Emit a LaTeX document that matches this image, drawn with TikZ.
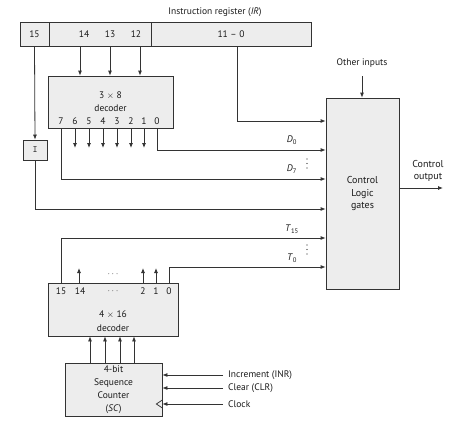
\documentclass[tikz,border=0pt]{standalone}
\usepackage{fontspec}
\setmainfont{PT Sans}
\usetikzlibrary{arrows.meta,calc}
\definecolor{boxfill}{HTML}{EDEDED}
\definecolor{linec}{HTML}{333333}
\definecolor{textc}{HTML}{1A1A1A}
\begin{document}
\begin{tikzpicture}[x=1pt,y=-1pt,
  txt/.style={text=textc, font=\fontsize{9.5}{11}\selectfont},
  box/.style={draw=linec, fill=boxfill, line width=0.8pt, inner sep=0pt, txt},
  lab/.style={inner sep=0pt, txt},
  wire/.style={draw=linec, line width=0.8pt},
  arr/.style={wire, -{Latex[length=5pt,width=4pt]}},
  dot/.style={fill=textc, circle, inner sep=0pt, minimum size=1.1pt}]
\useasboundingbox (0,0) rectangle (467,423);

% Instruction register
\node[lab] (irt) at (215,12) {Instruction register (\textit{IR})};
\node[box, minimum width=29pt, minimum height=24pt] (ir15) at (34.5,34) {15};
\node[box, minimum width=102pt, minimum height=24pt] (irm) at (100,34) {};
\node[box, minimum width=160pt, minimum height=24pt] (irr) at (231,34) {11 -- 0};
\node[lab] (b14) at (84,34) {14};
\node[lab] (b13) at (110,34) {13};
\node[lab] (b12) at (136,34) {12};

% 3x8 decoder
\node[box, minimum width=125pt, minimum height=52pt] (dec3) at (110.5,102) {};
\node[lab] (d3a) at (110.5,96) {3 $\times$ 8};
\node[lab] (d3b) at (110.5,108) {decoder};
\foreach \x/\d in {61/7,75/6,89/5,103/4,117/3,131/2,144/1,157/0}
  \node[lab] (o\d) at (\x,121) {\d};
\foreach \x in {80,110,140}
  \draw[arr] (irm.south -| \x,0) -- (dec3.north -| \x,0);
\foreach \x in {75,89,103,117,131,144}
  \draw[arr] (dec3.south -| \x,0) -- (\x,148);

% I flip-flop
\node[box, minimum width=24pt, minimum height=20pt, font=\ttfamily\fontsize{9.5}{11}\selectfont] (ibox) at (35,150) {I};

% Control logic
\node[box, minimum width=73pt, minimum height=191pt, align=center,
      font=\fontsize{10}{12.5}\selectfont] (ctl) at (362.5,193.5) {Control\\Logic\\gates};
\node[lab] (oth) at (362,63) {Other inputs};
\draw[arr] (362,76) -- (ctl.north -| 362,0);
\node[lab, align=center, font=\fontsize{10}{12.5}\selectfont] (colab) at (428,171) {Control\\output};
\coordinate (cout) at (443,188);
\draw[arr] (ctl.east |- cout) -- (cout);

\draw[arr] (irr.south -| 237,0) |- (ctl.west |- 0,121);
\draw[arr] (dec3.south -| 157,0) |- (ctl.west |- 0,150);
\draw[arr] (dec3.south -| 61,0) |- (ctl.west |- 0,179);
\draw[arr] (ir15.south) -- (ibox.north);
\draw[arr] (ibox.south) |- (ctl.west |- 0,209);

\node[lab] (lD0) at (292,140) {\textit{D}\textsubscript{0}};
\node[lab] (lD7) at (292,169) {\textit{D}\textsubscript{7}};
\node[lab] (lT15) at (292,229) {\textit{T}\textsubscript{15}};
\node[lab] (lT0) at (292,258) {\textit{T}\textsubscript{0}};
\foreach \y [count=\i] in {159,163.5,168} \node[dot] (va\i) at (307,\y) {};
\foreach \y [count=\i] in {245,249.5,254} \node[dot] (vb\i) at (307,\y) {};

% 4x16 decoder
\node[box, minimum width=130pt, minimum height=53pt] (dec4) at (113,309.5) {};
\node[lab] (d4a) at (113,315) {4 $\times$ 16};
\node[lab] (d4b) at (113,328) {decoder};
\foreach \x/\d in {61/15,80/14,143/2,156/1,169/0}
  \node[lab] (t\d) at (\x,291) {\d};
\node[lab] (tdots) at (113,291) {$\cdots$};
\node[lab] (udots) at (113,274) {$\cdots$};
\foreach \x in {79,143,156}
  \draw[arr] (dec4.north -| \x,0) -- (\x,268);
\draw[arr] (dec4.north -| 61,0) |- (ctl.west |- 0,238);
\draw[arr] (dec4.north -| 169,0) |- (ctl.west |- 0,267);

% Sequence counter
\node[box, minimum width=97pt, minimum height=53pt, align=center,
      font=\fontsize{9.5}{13}\selectfont] (sc) at (113.5,389.5) {4-bit\\Sequence\\Counter\\(\textit{SC})};
\foreach \x in {90,105,120,134}
  \draw[arr] (sc.north -| \x,0) -- (dec4.south -| \x,0);
\node[lab, anchor=west] (inr) at (228,375) {Increment (INR)};
\node[lab, anchor=west] (clr) at (228,388) {Clear (CLR)};
\node[lab, anchor=west] (clk) at (228,404) {Clock};
\foreach \n in {inr,clr,clk}
  \draw[arr] ([xshift=-5pt]\n.west) -- (sc.east |- \n.west);
\draw[wire] ($(sc.east |- clk.west)+(0,-4)$) -- ++(-6,4) -- ++(6,4);
\end{tikzpicture}
\end{document}
